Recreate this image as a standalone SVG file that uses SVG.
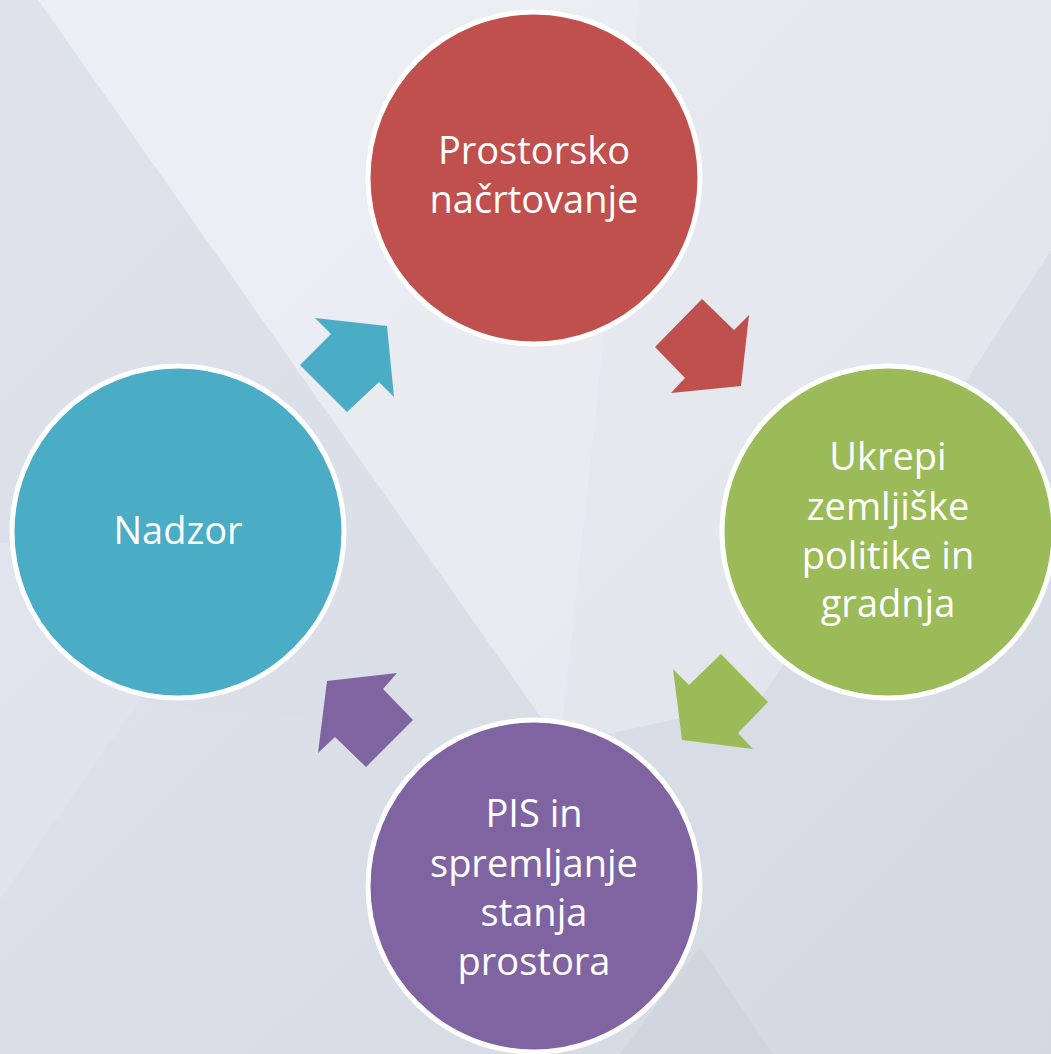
<svg xmlns="http://www.w3.org/2000/svg" width="1051" height="1054" viewBox="0 0 1051 1054">
  <defs>
    <linearGradient id="bg" x1="0" y1="0" x2="1" y2="1">
      <stop offset="0" stop-color="#e2e6ee"/>
      <stop offset="1" stop-color="#d4d8e2"/>
    </linearGradient>
    <style>
      .node circle { stroke: #ffffff; stroke-width: 5; }
      .node text { font-family: "Open Sans", "Liberation Sans", sans-serif; font-size: 38px; fill: #ffffff; text-anchor: middle; }
    </style>
  </defs>
  <g id="background">
    <rect x="0" y="0" width="1051" height="1054" fill="url(#bg)"/>
    <polygon points="38,0 1051,0 1051,250 760,700 560,745" fill="#ffffff" opacity="0.28"/>
    <polygon points="38,0 640,0 560,745" fill="#ffffff" opacity="0.15"/>
    <polygon points="0,0 38,0 560,745 140,700 0,900" fill="#d9dde6" opacity="0.5"/>
    <polygon points="0,900 250,543 0,543" fill="#e3e6ee" opacity="0.6"/>
    <polygon points="620,1054 700,947 773,1054" fill="#cfd1d8" opacity="0.6"/>
  </g>
  <g id="connectors">
    <polygon id="arrow-red" points="702,299 734,330 749,315 741,386 671,393 685,378 655,347" fill="#c0504d"/>
    <polygon id="arrow-green" points="721,654 768,702 738,733 753,749 682,740 673,669 689,685" fill="#9bbb59"/>
    <polygon id="arrow-purple" points="397,673 383,689 413,720 366,767 335,737 318,753 327,681" fill="#8064a2"/>
    <polygon id="arrow-cyan" points="315,318 387,326 394,397 379,382 347,412 300,365 331,334" fill="#4bacc6"/>
  </g>
  <g id="node-prostorsko" class="node">
    <circle cx="534" cy="178" r="166" fill="#c0504d"/>
    <text x="534" y="164">Prostorsko</text>
    <text x="534" y="213">načrtovanje</text>
  </g>
  <g id="node-ukrepi" class="node">
    <circle cx="888" cy="532" r="166" fill="#9bbb59"/>
    <text x="888" y="470">Ukrepi</text>
    <text x="888" y="520">zemljiške</text>
    <text x="888" y="569">politike in</text>
    <text x="888" y="617">gradnja</text>
  </g>
  <g id="node-pis" class="node">
    <circle cx="534" cy="886" r="166" fill="#8064a2"/>
    <text x="534" y="827">PIS in</text>
    <text x="534" y="877">spremljanje</text>
    <text x="534" y="926">stanja</text>
    <text x="534" y="975">prostora</text>
  </g>
  <g id="node-nadzor" class="node">
    <circle cx="178" cy="532" r="166" fill="#4bacc6"/>
    <text x="178" y="544">Nadzor</text>
  </g>
</svg>
